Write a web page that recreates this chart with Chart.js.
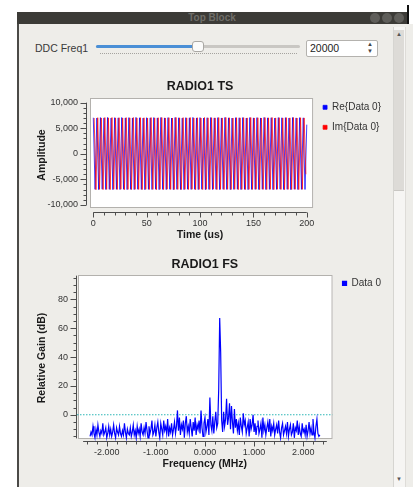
<!DOCTYPE html>
<html>
<head>
<meta charset="utf-8">
<title>Top Block</title>
<script src="https://cdn.jsdelivr.net/npm/chart.js@4.4.1/dist/chart.umd.min.js"></script>
<style>
  body { margin: 0; width: 413px; height: 487px; background: #ffffff; position: relative; overflow: hidden;
         font-family: "Liberation Sans", Arial, sans-serif; }
  .abs { position: absolute; }
  #win { left: 17px; top: 12px; width: 396px; height: 475px; background: #eeede9; }
  #titlebar { left: 17px; top: 12px; width: 390px; height: 12px; background: #3c3b37; color: #6f6e69;
              font-size: 10px; font-weight: bold; line-height: 12px; text-align: center; }
  #topright { left: 409px; top: 0; width: 4px; height: 24px; background: #ffffff; }
  .wbtn { width: 10px; height: 10px; top: 13px; border-radius: 50%; background: #5f5e5a; }
  #edge { left: 407px; top: 5px; width: 2px; height: 19px; background: #111; }
  #leftedge { left: 17px; top: 24px; width: 2px; height: 463px; background: #4b4a47; }
  #scroll { left: 393px; top: 27px; width: 11px; height: 460px; background: #f6f5f3; border-left: 1px solid #d6d5d1;
            border-right: 1px solid #dedcd8; }
  #thumb { left: 394px; top: 30px; width: 10px; height: 160px; background: #dddbd7; border-bottom: 1px solid #c9c7c3; }
  .arrow { font-size: 6px; color: #555; left: 396px; }
  #lbl { left: 35px; top: 42px; font-size: 10.5px; color: #3a3a3a; }
  #track { left: 96px; top: 45px; width: 204px; height: 3px; background: #c9c7c3; border-radius: 2px; }
  #fill { left: 96px; top: 45px; width: 102px; height: 3px; background: #4a8fd6; border-radius: 2px; }
  #knob { left: 192px; top: 41px; width: 10px; height: 9px; background: #fbfbfa; border: 1px solid #aaa8a4; border-radius: 3px; }
  #dots { left: 100px; top: 53px; width: 197px; height: 0; border-top: 1px dotted #a5a39f; }
  #spin { left: 306px; top: 40px; width: 67px; height: 15px; background: #ffffff; border: 1px solid #b4b2ae;
          border-radius: 2px; font-size: 10.5px; line-height: 15px; color: #222; padding-left: 3px; box-sizing: content-box; }
  #spinarrows { left: 367px; top: 41px; font-size: 6px; line-height: 7px; color: #444; }
  canvas { position: absolute; }
</style>
</head>
<body>
<div id="win" class="abs"></div>
<div id="titlebar" class="abs">Top Block</div>
<div id="topright" class="abs"></div>
<div class="abs wbtn" style="left:370px"></div>
<div class="abs wbtn" style="left:382px"></div>
<div class="abs wbtn" style="left:394px"></div>
<div id="edge" class="abs"></div>
<div id="leftedge" class="abs"></div>
<div id="scroll" class="abs"></div>
<div id="thumb" class="abs"></div>
<div class="abs arrow" style="top:31px">&#9650;</div>
<div class="abs arrow" style="top:476px">&#9660;</div>
<div id="lbl" class="abs">DDC Freq1</div>
<div id="track" class="abs"></div>
<div id="fill" class="abs"></div>
<div id="knob" class="abs"></div>
<div id="dots" class="abs"></div>
<div id="spin" class="abs">20000</div>
<div id="spinarrows" class="abs">&#9650;<br>&#9660;</div>

<canvas id="radio1-ts" width="374" height="167" style="left:17px; top:76px;"></canvas>
<canvas id="radio1-fs" width="374" height="219" style="left:17px; top:253px;"></canvas>

<script>
// RADIO1 TS - peaks of the 0.3 MHz tone
var tsStepUs = 1.6667;
var tsImStartUs = 0.8333;
var tsRe = [
  7050, -6950, 7000, -7000, 7080, -6920, 7020, -6980, 7100, -6940,
  6990, -7010, 7060, -6950, 7030, -6990, 7090, -6930, 7010, -7000,
  7070, -6960, 7000, -6990, 7110, -6940, 7040, -6970, 6990, -7020,
  7060, -6950, 7030, -6980, 7080, -6930, 7010, -7000, 7100, -6960,
  7020, -6990, 7070, -6940, 7000, -7010, 7090, -6950, 7040, -6980,
  6980, -7000, 7060, -6930, 7030, -6970, 7110, -6950, 7010, -6990,
  7080, -6940, 7000, -7010, 7050, -6960, 7090, -6980, 7020, -6950,
  7070, -6990, 7010, -6940, 7100, -6970, 7030, -7000, 6990, -6960,
  7060, -6930, 7040, -6990, 7080, -6950, 7000, -7010, 7090, -6970,
  7020, -6960, 7070, -6980, 7010, -6940, 7100, -6990, 7030, -6950,
  7050, -7000, 6990, -6960, 7080, -6930, 7040, -6980, 7060, -6950,
  7000, -7010, 7090, -6940, 7020, -6990, 7070, -6960, 7030, -6980,
  5700
];
var tsIm = [
  7000, -7020, 7060, -6950, 7010, -6990, 7080, -6960, 7030, -7000,
  7090, -6940, 7020, -6980, 7050, -6930, 7000, -7010, 7070, -6960,
  7030, -6990, 7100, -6950, 7010, -6970, 7060, -7000, 7040, -6940,
  6990, -6980, 7080, -6960, 7020, -7010, 7050, -6950, 7090, -6990,
  7010, -6930, 7060, -6970, 7000, -6990, 7100, -6960, 7030, -7000,
  7070, -6950, 7020, -6980, 7080, -6940, 7010, -7010, 7050, -6960,
  7000, -6990, 7090, -6950, 7030, -6970, 7060, -6930, 7020, -7000,
  7080, -6960, 7010, -6990, 7100, -6950, 7040, -6980, 7000, -6940,
  7060, -7010, 7030, -6960, 7070, -6990, 7020, -6950, 7090, -6970,
  7010, -6940, 7050, -7000, 7000, -6960, 7080, -6980, 7030, -6950,
  7090, -6990, 7020, -6940, 7060, -6970, 7010, -7010, 7070, -6960,
  7030, -6980, 7100, -6950, 7000, -6990, 7050, -6960, 7020, -4000
];
var tsLegend = ['Re{Data 0}', 'Im{Data 0}'];
var tsXTicks = [0, 50, 100, 150, 200];
var tsYTicks = [-10000, -5000, 0, 5000, 10000];

// RADIO1 FS - one value every 0.02 MHz from -2.34 MHz
var fsStartMHz = -2.34;
var fsBinMHz = 0.02;
var fsGain = [
  -15, -12, -14, -8, -13, -16, -10, -14, -7, -12,
  -15, -11, -13, -6, -14, -12, -9, -16, -13, -8,
  -14, -10, -15, -12, -7, -13, -16, -9, -12, -14,
  -8, -13, -15, -11, -14, -6, -12, -16, -10, -13,
  -14, -9, -15, -12, -7, -14, -11, -16, -8, -13,
  -10, -15, -6, -12, -14, -9, -13, -5, -11, -16,
  -8, -13, -10, -4, -14, -12, -7, -15, -9, -5,
  -12, -16, -6, -10, -14, -4, -11, -8, -13, -3,
  -15, -9, -12, -6, -14, -10, -5, -13, -8, 3,
  -11, -2, -14, -7, -10, -4, -16, -6, -1, -12,
  -8, -13, -3, -9, -15, -5, -11, -2, -14, -7,
  -10, -4, -13, 3, -9, -15, -6, -2, -12, -8,
  -3, -14, 12, -7, -11, -1, -13, -5, 2, -9,
  -6, 18, 67, 43, -4, -12, 2, -8, -3, 11,
  -7, -2, 8, -10, 6, -5, -13, 4, -9, -3,
  -11, -6, -14, -2, -8, -12, 1, -7, -4, -13,
  -9, -5, -15, -3, -10, -7, 0, -12, -6, -14,
  -8, -4, -13, -10, -6, -16, -2, -11, -7, -14,
  -9, -5, -12, -3, -15, -8, -11, -6, -14, -10,
  -7, -13, -4, -12, -16, -9, -6, -14, -11, -8,
  -13, -5, -15, -10, -7, -14, -12, -6, -16, -9,
  -11, -4, -14, -8, -13, -15, -6, -12, -10, -14,
  -7, -15, -11, -5, -13, -9, -14, -3, -12, -16,
  -8, -3, -13, -15, -14
];
var fsThreshold = 0;
var fsLegend = ['Data 0'];
var fsXTicks = [-2, -1, 0, 1, 2];
var fsYTicks = [0, 20, 40, 60, 80];

var fontFamily = "'Liberation Sans', Arial, sans-serif";
Chart.defaults.font.family = fontFamily;
Chart.defaults.color = '#333333';

function isMajor(v, majors) {
    return majors.some(function (m) { return Math.abs(m - v) < 1e-6; });
}

// major + minor ticks like the qwt scale
function qwtTicks(lo, hi, step) {
    return function (scale) {
        var ticks = [];
        var n = Math.round((hi - lo) / step);
        for (var k = 0; k <= n; k++) {
            ticks.push({ value: Math.round((lo + k * step) * 1000) / 1000 });
        }
        scale.ticks = ticks;
    };
}

// white plot canvas, axis backbones and tick marks
var qwtFrame = {
    id: 'qwtFrame',
    beforeDatasetsDraw: function (chart, args, opts) {
        var ctx = chart.ctx, a = chart.chartArea;
        var l = a.left + opts.inset.left, b = a.bottom - opts.inset.bottom;
        ctx.save();
        ctx.fillStyle = '#ffffff';
        ctx.fillRect(l, a.top, a.right - l, b - a.top);
        ctx.strokeStyle = '#b3b1ad';
        ctx.lineWidth = 1;
        ctx.strokeRect(l + 0.5, a.top + 0.5, a.right - l - 1, b - a.top - 1);
        ctx.restore();
    },
    afterDraw: function (chart, args, opts) {
        var ctx = chart.ctx;
        ctx.save();
        ctx.strokeStyle = '#4d4d4d';
        ctx.lineWidth = 1;
        ['x', 'y'].forEach(function (id) {
            var s = chart.scales[id];
            var majors = opts.majors[id];
            var px = s.ticks.map(function (t) { return s.getPixelForValue(t.value); });
            var lo = Math.min.apply(null, px) - opts.ext[id];
            var hi = Math.max.apply(null, px) + opts.ext[id];
            ctx.beginPath();
            if (s.isHorizontal()) {
                var y = Math.round(s.top) + 0.5;
                ctx.moveTo(lo, y);
                ctx.lineTo(hi, y);
                s.ticks.forEach(function (t, i) {
                    var len = isMajor(t.value, majors) ? 5 : 3;
                    var x = Math.round(px[i]) + 0.5;
                    ctx.moveTo(x, y);
                    ctx.lineTo(x, y + len);
                });
            } else {
                var x = Math.round(s.right) - 0.5;
                ctx.moveTo(x, lo);
                ctx.lineTo(x, hi);
                s.ticks.forEach(function (t, i) {
                    var len = isMajor(t.value, majors) ? 6 : 3;
                    var yy = Math.round(px[i]) + 0.5;
                    ctx.moveTo(x, yy);
                    ctx.lineTo(x - len, yy);
                });
            }
            ctx.stroke();
        });
        ctx.restore();
    }
};

var tickFont = { family: fontFamily, size: 9 };
var axisTitleFont = { family: fontFamily, size: 10.5, weight: 'bold' };
var plotTitleFont = { family: fontFamily, size: 12.5, weight: 'bold' };
var legendFont = { family: fontFamily, size: 10 };

//RADIO1 TS
var ctx = document.getElementById('radio1-ts').getContext('2d');
var radioTs = new Chart(ctx, {
    type: 'line',
    data: {
        datasets: [{
            label: tsLegend[0],
            data: tsRe.map(function (v, i) { return { x: i * tsStepUs, y: v }; }),
            borderColor: 'rgba(0, 0, 255, 0.75)',
            backgroundColor: '#0000ff',
            borderWidth: 1,
            pointRadius: 0,
            order: 1
        }, {
            label: tsLegend[1],
            data: tsIm.map(function (v, i) { return { x: tsImStartUs + i * tsStepUs, y: v }; }),
            borderColor: 'rgba(255, 0, 0, 0.7)',
            backgroundColor: '#ff0000',
            borderWidth: 1,
            pointRadius: 0,
            order: 0
        }]
    },
    options: {
        responsive: false,
        animation: false,
        events: [],
        layout: { padding: { left: 19, right: 0, top: 0, bottom: 2 } },
        plugins: {
            title: { display: true, text: 'RADIO1 TS', fullSize: false, font: plotTitleFont, color: '#1a1a1a',
                     padding: { top: 3.1, bottom: 3.9 } },
            legend: {
                position: 'right', align: 'start', fullSize: true,
                title: { display: true, text: '', font: { size: 10 }, padding: { top: 4.3, bottom: 0 } },
                labels: { boxWidth: 4, boxHeight: 4, padding: 10, font: legendFont, color: '#333333',
                          sort: function (a, b) { return a.datasetIndex - b.datasetIndex; } }
            },
            tooltip: { enabled: false },
            qwtFrame: { inset: { left: 3, bottom: 4 }, majors: { x: tsXTicks, y: tsYTicks }, ext: { x: 0, y: 0 } }
        },
        scales: {
            x: {
                type: 'linear', min: -5.9, max: 205.9,
                grid: { display: false, drawTicks: true, tickLength: 5 },
                border: { display: false },
                afterBuildTicks: qwtTicks(0, 200, 10),
                afterFit: function (s) { s.height = 29; },
                ticks: { autoSkip: false, maxRotation: 0, padding: 1, font: tickFont, color: '#333333',
                         callback: function (v) { return isMajor(v, tsXTicks) ? String(v) : ''; } },
                title: { display: true, text: 'Time (us)', font: axisTitleFont, color: '#1a1a1a', padding: 0 }
            },
            y: {
                type: 'linear', min: -11380, max: 10910,
                grid: { display: false, drawTicks: true, tickLength: 6 },
                border: { display: false },
                afterBuildTicks: qwtTicks(-10000, 10000, 1000),
                afterFit: function (s) { s.width = 51; },
                ticks: { autoSkip: false, padding: 3, font: tickFont, color: '#333333',
                         callback: function (v) { return isMajor(v, tsYTicks) ? v.toLocaleString('en-US') : ''; } },
                title: { display: true, text: 'Amplitude', font: axisTitleFont, color: '#1a1a1a', padding: 0 }
            }
        }
    },
    plugins: [qwtFrame]
});

//RADIO1 FS
var ctx = document.getElementById('radio1-fs').getContext('2d');
var fsXMin = -2.606, fsXMax = 2.598;
var radioFs = new Chart(ctx, {
    type: 'line',
    data: {
        datasets: [{
            label: fsLegend[0],
            data: fsGain.map(function (v, i) { return { x: fsStartMHz + i * fsBinMHz, y: v }; }),
            borderColor: '#0000ff',
            backgroundColor: '#0000ff',
            borderWidth: 1.2,
            pointRadius: 0,
            order: 0
        }, {
            label: '',
            data: [{ x: fsXMin, y: fsThreshold }, { x: fsXMax, y: fsThreshold }],
            borderColor: '#2fb7b7',
            borderDash: [1.5, 1.5],
            borderWidth: 1.2,
            pointRadius: 0,
            order: 1
        }]
    },
    options: {
        responsive: false,
        animation: false,
        events: [],
        layout: { padding: { left: 19, right: 0, top: 0, bottom: 2 } },
        plugins: {
            title: { display: true, text: 'RADIO1 FS', fullSize: false, font: plotTitleFont, color: '#1a1a1a',
                     padding: { top: 4.5, bottom: 2.5 } },
            legend: {
                position: 'right', align: 'start', fullSize: true,
                title: { display: true, text: '', font: { size: 10 }, padding: { top: 3.3, bottom: 0 } },
                labels: { boxWidth: 4, boxHeight: 4, padding: 10, font: legendFont, color: '#333333',
                          filter: function (item) { return item.datasetIndex === 0; } }
            },
            tooltip: { enabled: false },
            qwtFrame: { inset: { left: 1, bottom: 2 }, majors: { x: fsXTicks, y: fsYTicks }, ext: { x: 4, y: 2 } }
        },
        scales: {
            x: {
                type: 'linear', min: fsXMin, max: fsXMax,
                grid: { display: false, drawTicks: true, tickLength: 5 },
                border: { display: false },
                afterBuildTicks: qwtTicks(-2.4, 2.4, 0.2),
                afterFit: function (s) { s.height = 29; },
                ticks: { autoSkip: false, maxRotation: 0, padding: 1, font: tickFont, color: '#333333',
                         callback: function (v) { return isMajor(v, fsXTicks) ? v.toFixed(3) : ''; } },
                title: { display: true, text: 'Frequency (MHz)', font: axisTitleFont, color: '#1a1a1a', padding: 0 }
            },
            y: {
                type: 'linear', min: -18.2, max: 96.85,
                grid: { display: false, drawTicks: true, tickLength: 6 },
                border: { display: false },
                afterBuildTicks: qwtTicks(-15, 95, 5),
                afterFit: function (s) { s.width = 41; },
                ticks: { autoSkip: false, padding: 3, font: tickFont, color: '#333333',
                         callback: function (v) { return isMajor(v, fsYTicks) ? String(v) : ''; } },
                title: { display: true, text: 'Relative Gain (dB)', font: axisTitleFont, color: '#1a1a1a', padding: 0 }
            }
        }
    },
    plugins: [qwtFrame]
});
</script>
</body>
</html>
